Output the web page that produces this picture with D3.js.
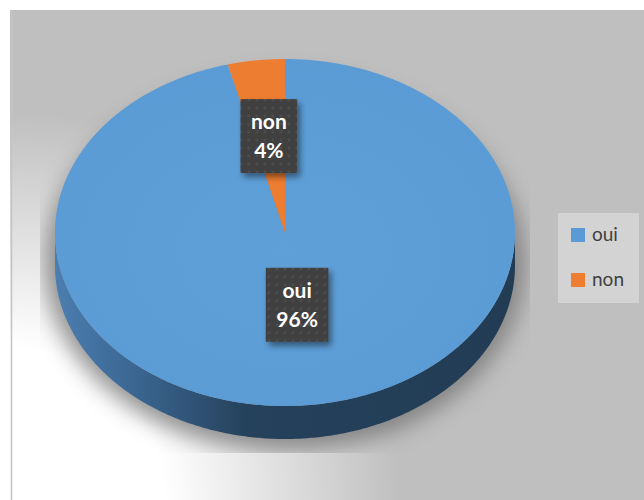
<!DOCTYPE html>
<html>
<head>
<meta charset="utf-8">
<script src="https://cdn.jsdelivr.net/npm/d3@7"></script>
<style>
  html, body { margin: 0; padding: 0; background: #fff; }
  svg { display: block; font-family: Lato, "Open Sans", sans-serif; }
</style>
</head>
<body>
<svg id="chart" width="644" height="500"></svg>
<script>
"use strict";

const categories = ["oui", "non"]
const values = [96, 4]
const colors = ["#5B9BD5", "#ED7D31"]

const width = 644
const height = 500
const cx = 285, cy = 232.5
const rx = 230, ry = 173.5
const depth = 33

const svg = d3.select("#chart")
const defs = svg.append("defs")

// background gradient, white from the lower left corner
const bg = defs.append("radialGradient")
    .attr("id", "bg").attr("gradientUnits", "userSpaceOnUse")
    .attr("cx", 12).attr("cy", 500).attr("r", 400)
bg.append("stop").attr("offset", 0.38).attr("stop-color", "#ffffff")
bg.append("stop").attr("offset", 0.97).attr("stop-color", "#bfbfbf")

const side = defs.append("linearGradient")
    .attr("id", "side").attr("gradientUnits", "userSpaceOnUse")
    .attr("x1", cx - rx).attr("x2", cx + rx).attr("y1", 0).attr("y2", 0)
side.append("stop").attr("offset", 0).attr("stop-color", "#4b7eb0")
side.append("stop").attr("offset", 0.18).attr("stop-color", "#3a6590")
side.append("stop").attr("offset", 0.42).attr("stop-color", "#25415b")
side.append("stop").attr("offset", 1).attr("stop-color", "#223c54")

const topGrad = defs.append("radialGradient").attr("id", "topface")
    .attr("cx", 0.5).attr("cy", 0.55).attr("r", 0.6)
topGrad.append("stop").attr("offset", 0).attr("stop-color", "#5fa0d8")
topGrad.append("stop").attr("offset", 1).attr("stop-color", "#5b9bd5")

defs.append("filter").attr("id", "blur").attr("x", "-20%").attr("y", "-20%")
    .attr("width", "140%").attr("height", "140%")
    .append("feGaussianBlur").attr("stdDeviation", 11)

const boxShadow = defs.append("filter").attr("id", "boxshadow")
    .attr("x", "-30%").attr("y", "-30%").attr("width", "160%").attr("height", "160%")
boxShadow.append("feDropShadow").attr("dx", 3).attr("dy", 4)
    .attr("stdDeviation", 3).attr("flood-color", "#000").attr("flood-opacity", 0.45)

// dotted texture of the label boxes
const dots = defs.append("pattern").attr("id", "dots")
    .attr("patternUnits", "userSpaceOnUse").attr("width", 8).attr("height", 8)
dots.append("rect").attr("width", 8).attr("height", 8).attr("fill", "#404040")
dots.append("circle").attr("cx", 4).attr("cy", 4).attr("r", 1.4).attr("fill", "#4e4e4e")

defs.append("clipPath").attr("id", "plotclip")
    .append("rect").attr("x", 40).attr("y", 10).attr("width", 490).attr("height", 443)

// chart area
svg.append("rect").attr("x", 10).attr("y", 10)
    .attr("width", width - 10).attr("height", height - 10)
    .attr("fill", "url(#bg)")
svg.append("line").attr("x1", 11.5).attr("x2", 11.5).attr("y1", 10).attr("y2", height)
    .attr("stroke", "#c4c4c4").attr("stroke-width", 1.5)

// pie shadow
svg.append("g").attr("clip-path", "url(#plotclip)")
    .append("ellipse")
    .attr("cx", cx).attr("cy", cy + depth - 2)
    .attr("rx", rx + 10).attr("ry", ry + 14)
    .attr("fill", "#6f6f6f").attr("opacity", 0.75)
    .attr("filter", "url(#blur)")

const pie = d3.pie().sort(null).value(d => d.value)
const arcs = pie(categories.map((c, i) => ({ name: c, value: values[i], color: colors[i] })))

const pt = (a, dy = 0) => [cx + rx * Math.sin(a), cy - ry * Math.cos(a) + dy]

function edge(a0, a1, dy = 0) {
    const n = Math.max(2, Math.ceil((a1 - a0) / 0.01))
    return d3.range(n + 1).map(i => pt(a0 + (a1 - a0) * i / n, dy))
}

const line = d3.line()
const pieG = svg.append("g")

// visible side wall: front half of the ellipse
arcs.forEach(d => {
    const a0 = Math.max(d.startAngle, Math.PI / 2)
    const a1 = Math.min(d.endAngle, Math.PI * 3 / 2)
    if (a1 <= a0) return
    const pts = edge(a0, a1).concat(edge(a0, a1, depth).reverse())
    pieG.append("path").attr("d", line(pts) + "Z")
        .attr("fill", d.index == 0 ? "url(#side)" : d3.color(d.data.color).darker(1.2))
})

// top faces
pieG.selectAll("path.top")
    .data(arcs)
    .join("path")
    .attr("class", "top")
    .attr("d", d => line([[cx, cy]].concat(edge(d.startAngle, d.endAngle))) + "Z")
    .attr("fill", d => d.index == 0 ? "url(#topface)" : d.data.color)

// data labels
const total = d3.sum(values)
const labels = svg.append("g")
arcs.forEach(d => {
    const mid = (d.startAngle + d.endAngle) / 2
    const f = d.data.value < 10 ? 0.56 : 0.42
    const lx = cx + rx * f * Math.sin(mid)
    const ly = cy - ry * f * Math.cos(mid)
    const g = labels.append("g").attr("transform", `translate(${lx},${ly})`)
    const box = g.append("rect").attr("fill", "url(#dots)").attr("filter", "url(#boxshadow)")
    const t = g.append("text").attr("text-anchor", "middle")
        .attr("fill", "#fff").attr("font-weight", "bold").attr("font-size", 21)
    t.append("tspan").attr("x", 0).attr("y", -7).text(d.data.name)
    t.append("tspan").attr("x", 0).attr("y", 22)
        .text(Math.round(d.data.value / total * 100) + "%")
    const w = t.node().getBBox().width + 21
    box.attr("x", -w / 2).attr("y", -37).attr("width", w).attr("height", 74)
})

// legend
const legend = svg.append("g")
legend.append("rect").attr("x", 558).attr("y", 213).attr("width", 81).attr("height", 90)
    .attr("fill", "#d3d3d3")
const legendY = d3.scalePoint().domain(categories).range([235, 280])
const item = legend.selectAll("g.item")
    .data(categories)
    .join("g")
    .attr("class", "item")
    .attr("transform", d => `translate(571,${legendY(d)})`)
item.append("rect").attr("y", -7).attr("width", 14).attr("height", 14)
    .attr("fill", (d, i) => colors[i])
item.append("text").attr("x", 21).attr("y", 1).attr("dominant-baseline", "middle")
    .attr("font-size", 19).attr("fill", "#404040").text(d => d)
</script>
</body>
</html>
